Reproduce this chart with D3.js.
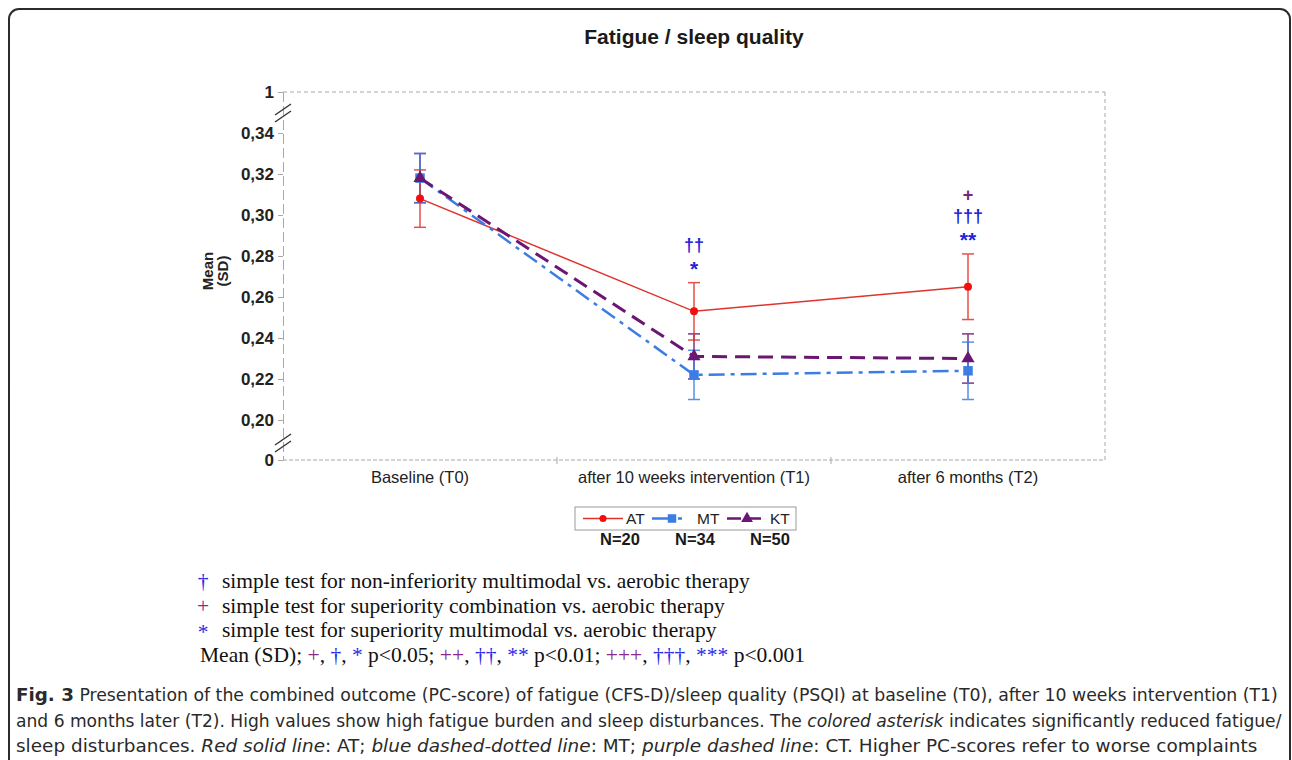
<!DOCTYPE html>
<html>
<head>
<meta charset="utf-8">
<script src="https://cdn.jsdelivr.net/npm/d3@7"></script>
<style>
  html, body { margin: 0; padding: 0; background: #fff; }
  svg { display: block; }
</style>
</head>
<body>
<svg id="chart" width="1292" height="760"></svg>
<script>
// data
const categories = ["Baseline (T0)", "after 10 weeks intervention (T1)", "after 6 months (T2)"];
const groupNames = ["AT", "MT", "KT"];
const groupN = ["N=20", "N=34", "N=50"];
const atMean = [0.308, 0.253, 0.265];
const atSD = [0.014, 0.014, 0.016];
const mtMean = [0.318, 0.222, 0.224];
const mtSD = [0.012, 0.012, 0.014];
const ktMean = [0.318, 0.231, 0.230];
const ktSD = [0.012, 0.011, 0.012];
const yTicks = [0, 0.20, 0.22, 0.24, 0.26, 0.28, 0.30, 0.32, 0.34, 1];

// significance marks above the AT error bar
const sigCategory = [1, 1, 2, 2, 2];
const sigText = ["††", "*", "+", "†††", "**"];
const sigGroup = ["MT", "MT", "KT", "MT", "MT"];
const sigRow = [1, 0, 2, 1, 0];

const footSymbols = ["†", "+", "*"];
const footGroup = ["MT", "KT", "MT"];
const footText = [
    "simple test for non-inferiority multimodal vs. aerobic therapy",
    "simple test for superiority combination vs. aerobic therapy",
    "simple test for superiority multimodal vs. aerobic therapy"
];

const colors = { AT: "#e2322c", MT: "#3b7de3", KT: "#6a1672" };
const sigColors = { MT: "#1f22d6", KT: "#7a2380" };
const footColors = { MT: "#2a2ae8", KT: "#8a2a8a" };

const sans = "'Liberation Sans', Arial, sans-serif";
const svg = d3.select("#chart");

// outer frame
svg.append("rect")
    .attr("x", 9).attr("y", 9)
    .attr("width", 1281).attr("height", 800)
    .attr("rx", 10)
    .attr("fill", "none")
    .attr("stroke", "#2b2b2b")
    .attr("stroke-width", 2);

svg.append("text")
    .attr("x", 694).attr("y", 44)
    .attr("text-anchor", "middle")
    .style("font-family", sans)
    .style("font-weight", "bold")
    .style("font-size", "21px")
    .attr("fill", "#1a1a1a")
    .text("Fatigue / sleep quality");

const plot = { left: 283, right: 1105, top: 92, bottom: 460 };

const x = d3.scaleBand()
    .domain(categories)
    .range([plot.left, plot.right]);
const cx = c => x(c) + x.bandwidth() / 2;

// broken axis: 0 .. 0.20 and 0.34 .. 1 are squeezed
const y = d3.scaleLinear()
    .domain([0, 0.20, 0.34, 1])
    .range([plot.bottom, 420, 133, plot.top]);

const gray = "#a9a9a9";

// frame of the plot (dashed)
svg.append("line")
    .attr("x1", plot.left).attr("x2", plot.right)
    .attr("y1", plot.top).attr("y2", plot.top)
    .attr("stroke", gray).attr("stroke-dasharray", "4,3");
svg.append("line")
    .attr("x1", plot.right).attr("x2", plot.right)
    .attr("y1", plot.top).attr("y2", plot.bottom)
    .attr("stroke", gray).attr("stroke-dasharray", "4,3");

// y axis
const fmt = d => (d === 0 || d === 1) ? String(d) : d3.format(".2f")(d).replace(".", ",");
const yAxis = svg.append("g")
    .attr("transform", `translate(${plot.left},0)`)
    .call(d3.axisLeft(y).tickValues(yTicks).tickFormat(fmt).tickSize(5).tickPadding(4));
yAxis.select(".domain")
    .attr("stroke", gray).attr("stroke-dasharray", "10,4");
yAxis.selectAll(".tick line").attr("stroke", gray);
yAxis.selectAll(".tick text")
    .style("font-family", sans)
    .style("font-weight", "bold")
    .style("font-size", "17px")
    .attr("fill", "#222");

// x axis
const xAxis = svg.append("g")
    .attr("transform", `translate(0,${plot.bottom})`)
    .call(d3.axisBottom(x).tickSize(0).tickPadding(11));
xAxis.select(".domain").remove();
svg.append("line")
    .attr("x1", plot.left).attr("x2", plot.right)
    .attr("y1", plot.bottom).attr("y2", plot.bottom)
    .attr("stroke", gray).attr("stroke-dasharray", "4,2");
svg.selectAll(".xsep")
    .data(categories.slice(1))
    .enter().append("line")
    .attr("x1", d => x(d)).attr("x2", d => x(d))
    .attr("y1", plot.bottom - 3).attr("y2", plot.bottom + 4)
    .attr("stroke", gray);
xAxis.selectAll(".tick text")
    .style("font-family", sans)
    .style("font-size", "16.5px")
    .attr("fill", "#222");

// axis break marks
[plot.top + 18, plot.bottom - 20].forEach(yb => {
    [0, 7].forEach(off => {
        svg.append("line")
            .attr("x1", plot.left - 8).attr("y1", yb + off + 5)
            .attr("x2", plot.left + 8).attr("y2", yb + off - 6)
            .attr("stroke", "#333").attr("stroke-width", 1.4);
    });
});

// y label
const ylab = svg.append("text")
    .attr("transform", "translate(213,271) rotate(-90)")
    .attr("text-anchor", "middle")
    .attr("font-family", sans)
    .attr("font-weight", "bold")
    .attr("font-size", 15)
    .attr("fill", "#222");
ylab.append("tspan").attr("x", 0).attr("dy", 0).text("Mean");
ylab.append("tspan").attr("x", 0).attr("dy", 15).text("(SD)");

// series
const series = [
    { name: "AT", mean: atMean, sd: atSD, width: 1.5, dash: null, shape: d3.symbolCircle, size: 50 },
    { name: "MT", mean: mtMean, sd: mtSD, width: 2.5, dash: "16,6,4,6", shape: d3.symbolSquare, size: 90 },
    { name: "KT", mean: ktMean, sd: ktSD, width: 3, dash: "15,8", shape: d3.symbolTriangle, size: 75 }
];

const line = d3.line()
    .x((d, i) => cx(categories[i]))
    .y(d => y(d));

// error bars first, then lines and markers
series.slice().reverse().forEach(s => {
    const g = svg.append("g").attr("stroke", colors[s.name]).attr("stroke-width", 1.5).attr("opacity", 0.85);
    s.mean.forEach((m, i) => {
        const xc = cx(categories[i]);
        g.append("line").attr("x1", xc).attr("x2", xc)
            .attr("y1", y(m - s.sd[i])).attr("y2", y(m + s.sd[i]));
        [m - s.sd[i], m + s.sd[i]].forEach(v => {
            g.append("line").attr("x1", xc - 6).attr("x2", xc + 6)
                .attr("y1", y(v)).attr("y2", y(v));
        });
    });
});

series.forEach(s => {
    svg.append("path")
        .datum(s.mean)
        .attr("d", line)
        .attr("fill", "none")
        .attr("stroke", colors[s.name])
        .attr("stroke-width", s.width)
        .attr("stroke-dasharray", s.dash);
    svg.selectAll(null)
        .data(s.mean)
        .enter().append("path")
        .attr("d", d3.symbol().type(s.shape).size(s.size))
        .attr("transform", (d, i) => `translate(${cx(categories[i])},${y(d)})`)
        .attr("fill", s.name === "AT" ? "#f01010" : colors[s.name]);
});

// significance marks
sigText.forEach((t, k) => {
    const i = sigCategory[k];
    const top = y(atMean[i] + atSD[i]);
    svg.append("text")
        .attr("x", cx(categories[i]))
        .attr("y", top - 17 - sigRow[k] * 21 + (t.includes("*") ? 10 : 6))
        .attr("text-anchor", "middle")
        .style("font-family", sans)
        .style("font-weight", "bold")
        .style("font-size", t.includes("*") ? "21px" : "18px")
        .attr("fill", sigColors[sigGroup[k]])
        .text(t);
});

// legend
const legX = [603, 672, 747];
const lg = svg.append("g");
lg.append("rect")
    .attr("x", 575).attr("y", 507)
    .attr("width", 221).attr("height", 23)
    .attr("fill", "none").attr("stroke", "#9a9a9a");
series.forEach((s, i) => {
    const xm = legX[i];
    lg.append("line")
        .attr("x1", xm - 20).attr("x2", xm + 20)
        .attr("y1", 518.5).attr("y2", 518.5)
        .attr("stroke", colors[s.name])
        .attr("stroke-width", s.name === "AT" ? 1.5 : 2.5)
        .attr("stroke-dasharray", s.name === "MT" ? "20,6,4,20" : (s.name === "KT" ? "14,6" : null));
    lg.append("path")
        .attr("d", d3.symbol().type(s.shape).size(s.size * 0.8))
        .attr("transform", `translate(${xm},518.5)`)
        .attr("fill", s.name === "AT" ? "#f01010" : colors[s.name]);
    lg.append("text")
        .attr("x", xm + (s.name === "MT" ? 25 : 23)).attr("y", 524)
        .style("font-family", sans)
        .style("font-size", "15.5px")
        .attr("fill", "#222")
        .text(groupNames[i]);
});
const nX = [620, 695, 770];
groupN.forEach((n, i) => {
    lg.append("text")
        .attr("x", nX[i]).attr("y", 545)
        .attr("text-anchor", "middle")
        .style("font-family", sans)
        .style("font-weight", "bold")
        .style("font-size", "16.5px")
        .attr("fill", "#1a1a1a")
        .text(n);
});

// footnotes
const serif = "'Liberation Serif', 'Times New Roman', serif";
const footSize = "21.5px";
footText.forEach((t, i) => {
    const yy = 588 + i * 24.5;
    svg.append("text")
        .attr("x", 203).attr("y", yy + (footSymbols[i] === "*" ? 2 : 0))
        .attr("text-anchor", "middle")
        .style("font-family", serif).style("font-size", footSize)
        .attr("fill", footColors[footGroup[i]])
        .text(footSymbols[i]);
    svg.append("text")
        .attr("x", 222).attr("y", yy)
        .style("font-family", serif).style("font-size", footSize)
        .attr("fill", "#111")
        .text(t);
});
const meanLine = svg.append("text")
    .attr("x", 200).attr("y", 588 + 3 * 24.5)
    .style("font-family", serif).style("font-size", footSize)
    .attr("fill", "#111");
const pieces = [
    ["Mean (SD); ", "#111"], ["+", footColors.KT], [", ", "#111"], ["†", footColors.MT], [", ", "#111"], ["*", footColors.MT],
    [" p<0.05; ", "#111"], ["++", footColors.KT], [", ", "#111"], ["††", footColors.MT], [", ", "#111"], ["**", footColors.MT],
    [" p<0.01; ", "#111"], ["+++", footColors.KT], [", ", "#111"], ["†††", footColors.MT], [", ", "#111"], ["***", footColors.MT],
    [" p<0.001", "#111"]
];
pieces.forEach(p => meanLine.append("tspan").attr("fill", p[1]).text(p[0]));

// caption
const capFont = "'Liberation Sans Narrow', 'DejaVu Sans Condensed', 'Open Sans', sans-serif";
const capLines = [
    [["Fig. 3", "b"], [" Presentation of the combined outcome (PC-score) of fatigue (CFS-D)/sleep quality (PSQI) at baseline (T0), after 10 weeks intervention (T1)", ""]],
    [["and 6 months later (T2). High values show high fatigue burden and sleep disturbances. The ", ""], ["colored asterisk", "i"], [" indicates significantly reduced fatigue/", ""]],
    [["sleep disturbances. ", ""], ["Red solid line", "i"], [": AT; ", ""], ["blue dashed-dotted line", "i"], [": MT; ", ""], ["purple dashed line", "i"], [": CT. Higher PC-scores refer to worse complaints", ""]]
];
const capRight = [1279, 1283, 1258];
capLines.forEach((ln, i) => {
    const yy = 701 + i * 25.5;
    const t = svg.append("text")
        .attr("x", 0).attr("y", 0)
        .style("font-family", capFont).style("font-size", "17.5px")
        .attr("fill", "#2a2a2a");
    ln.forEach(p => {
        const sp = t.append("tspan").text(p[0]);
        if (p[1] === "b") sp.style("font-weight", "bold").style("font-size", "18.5px");
        if (p[1] === "i") sp.style("font-style", "italic");
    });
    const w = t.node().getComputedTextLength();
    const k = (capRight[i] - 16) / w;
    t.attr("transform", `translate(16,${yy}) scale(${k},1)`);
});
</script>
</body>
</html>
